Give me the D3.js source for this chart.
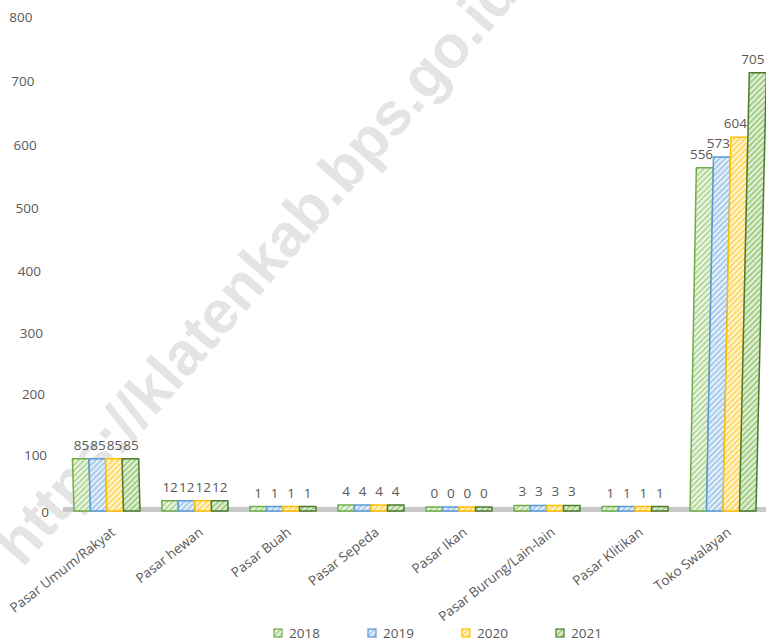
<!DOCTYPE html>
<html lang="id">
<head>
  <meta charset="UTF-8" />
  <title>Jumlah Pasar dan Toko Swalayan</title>
  <style>
    body { margin: 0; background: #fff; }
    svg { display: block; }
    text { font-family: "Open Sans", sans-serif; fill: #595959; }
  </style>
</head>
<body>
  <svg width="766" height="642"></svg>
  <script src="https://cdn.jsdelivr.net/npm/d3@7/dist/d3.min.js"></script>
  <script>
    // data
    const categories = ["Pasar Umum/Rakyat", "Pasar hewan", "Pasar Buah", "Pasar Sepeda",
      "Pasar Ikan", "Pasar Burung/Lain-lain", "Pasar Klitikan", "Toko Swalayan"];
    const years = ["2018", "2019", "2020", "2021"];
    const v2018 = [85, 12, 1, 4, 0, 3, 1, 556];
    const v2019 = [85, 12, 1, 4, 0, 3, 1, 573];
    const v2020 = [85, 12, 1, 4, 0, 3, 1, 604];
    const v2021 = [85, 12, 1, 4, 0, 3, 1, 705];
    const yTicks = [0, 100, 200, 300, 400, 500, 600, 700, 800];

    const series = [v2018, v2019, v2020, v2021];
    // border, stripe, background
    const styles = [
      ["#70ad47", "#b5d99c", "#eef6e8"],
      ["#5b9bd5", "#a9cbec", "#e8f1fa"],
      ["#ffc000", "#ffd966", "#fff6da"],
      ["#4e7a30", "#a3cf86", "#e4f0db"]
    ];

    const svg = d3.select("svg");
    const base = 511;

    // slight perspective of the 3D chart
    const lean = (x, h) => (x - 460) * 8e-5 * h;

    const x = d3.scaleBand().domain(categories).range([63, 767])
      .paddingInner(0.25).paddingOuter(0.125);
    const xs = d3.scaleBand().domain(years).range([0, x.bandwidth()]);
    const y = d3.scalePow().exponent(1.038).domain([0, 800]).range([base, 16]);

    const defs = svg.append("defs");
    styles.forEach((s, i) => {
      const p = defs.append("pattern")
        .attr("id", "hatch" + i)
        .attr("patternUnits", "userSpaceOnUse")
        .attr("width", 4).attr("height", 4)
        .attr("patternTransform", "rotate(45)");
      p.append("rect").attr("width", 4).attr("height", 4).attr("fill", s[2]);
      p.append("rect").attr("width", 2).attr("height", 4).attr("fill", s[1]);
    });

    // watermark
    svg.append("text")
      .attr("transform", "translate(256,268) rotate(-49)")
      .attr("text-anchor", "middle")
      .attr("dy", "0.35em")
      .style("font-family", "'Liberation Sans', Arial, sans-serif")
      .style("font-weight", "bold")
      .style("font-size", "60px")
      .style("fill", "#e4e4e4")
      .text("https://klatenkab.bps.go.id");

    // y tick labels
    svg.append("g").selectAll("text")
      .data(yTicks)
      .join("text")
      .attr("x", d => 49 + lean(40, base - y(d)))
      .attr("y", d => y(d) + 1)
      .attr("dy", "0.35em")
      .attr("text-anchor", "end")
      .style("font-size", "13.5px")
      .text(d => d);

    // floor
    svg.append("rect")
      .attr("x", 63).attr("y", base - 4)
      .attr("width", 710).attr("height", 5)
      .attr("fill", "#c8c8c8");

    // bars
    const rows = [];
    categories.forEach((c, ci) => {
      series.forEach((s, si) => rows.push({ cat: c, year: years[si], si: si, value: s[ci] }));
    });

    const barPoints = d => {
      const x0 = x(d.cat) + xs(d.year), x1 = x0 + xs.bandwidth();
      const top = y(d.value) - 4, h = base - top;
      return [[x0, base], [x1, base], [x1 + lean(x1, h), top], [x0 + lean(x0, h), top]]
        .map(p => p.join(",")).join(" ");
    };

    svg.append("g").selectAll("polygon")
      .data(rows)
      .join("polygon")
      .attr("points", barPoints)
      .attr("fill", d => `url(#hatch${d.si})`)
      .attr("stroke", d => styles[d.si][0])
      .attr("stroke-width", 1.5)
      .attr("stroke-linejoin", "round");

    // value labels
    svg.append("g").selectAll("text")
      .data(rows)
      .join("text")
      .attr("x", d => {
        const cx = x(d.cat) + xs(d.year) + xs.bandwidth() / 2;
        return cx + lean(cx, base - y(d.value) + 4) * 0.5;
      })
      .attr("y", d => y(d.value) - 13)
      .attr("text-anchor", "middle")
      .style("font-size", "13.5px")
      .text(d => d.value);

    // category labels
    svg.append("g").selectAll("text")
      .data(categories)
      .join("text")
      .attr("transform", d => `translate(${x(d) + x.bandwidth() / 2 + 9},534) rotate(-38)`)
      .attr("text-anchor", "end")
      .style("font-size", "13.5px")
      .text(d => d);

    // legend
    const legend = svg.append("g").selectAll("g")
      .data(years)
      .join("g")
      .attr("transform", (d, i) => `translate(${274 + i * 94},629)`);
    legend.append("rect")
      .attr("width", 8).attr("height", 8)
      .attr("fill", (d, i) => `url(#hatch${i})`)
      .attr("stroke", (d, i) => styles[i][0])
      .attr("stroke-width", 1.2);
    legend.append("text")
      .attr("x", 15).attr("y", 4)
      .attr("dy", "0.35em")
      .style("font-size", "13.5px")
      .text(d => d);
  </script>
</body>
</html>
